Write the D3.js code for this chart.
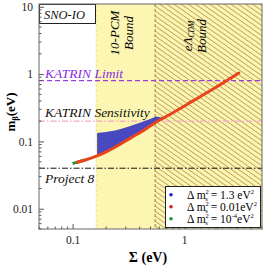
<!DOCTYPE html>
<html>
<head>
<meta charset="utf-8">
<script src="https://cdn.jsdelivr.net/npm/d3@7"></script>
<style>
  body { margin: 0; background: #fff; }
</style>
</head>
<body>
<script>
// Δm²s = 0.01 eV² curve (red)
var lineSigma = [0.1, 0.11, 0.13, 0.166, 0.2, 0.24, 0.33, 0.45, 0.55, 0.65, 0.83, 1.2, 2, 3.1];
var lineMbeta = [0.047, 0.049, 0.053, 0.061, 0.07, 0.082, 0.112, 0.152, 0.19, 0.222, 0.278, 0.40, 0.66, 1.04];
// Δm²s = 1e-4 eV² (green), only the start shows under the red
var greenSigma = [0.1, 0.105, 0.11, 0.13];
var greenMbeta = [0.047, 0.048, 0.049, 0.053];
// Δm²s = 1.3 eV² band (blue)
var bandSigma = [0.166, 0.24, 0.36, 0.49, 0.57, 0.65];
var bandTop = [0.133, 0.145, 0.178, 0.213, 0.232, 0.222];
var bandBottom = [0.061, 0.082, 0.122, 0.166, 0.197, 0.222];

var pcmBound = 0.163, lcdmBound = 0.55;
var katrinLimit = 0.8, katrinSens = 0.2, project8 = 0.04;

var xTicks = [0.1, 1];
var yTicks = [0.01, 0.1, 1, 10];
var yTickLabels = ["0.01", "0.1", "1", "10"];

var SERIF = "Liberation Serif, DejaVu Serif, serif";
var W = 266, H = 267;
var m = {left: 39, right: 4, top: 4, bottom: 38};

var x = d3.scaleLog().domain([0.05, 5]).range([m.left, W - m.right]);
var y = d3.scaleLog().domain([0.005, 11]).range([H - m.bottom, m.top]);

var svg = d3.select("body").append("svg").attr("width", W).attr("height", H)
    .attr("font-family", SERIF);

var defs = svg.append("defs");
defs.append("clipPath").attr("id", "clip").append("rect")
    .attr("x", m.left).attr("y", m.top)
    .attr("width", W - m.left - m.right).attr("height", H - m.top - m.bottom);
var pat = defs.append("pattern").attr("id", "hatch")
    .attr("patternUnits", "userSpaceOnUse")
    .attr("width", 4.1).attr("height", 4.1)
    .attr("patternTransform", "rotate(35)");
pat.append("rect").attr("width", 4.1).attr("height", 4.1).attr("fill", "#fcf6b2");
pat.append("line").attr("x1", 0).attr("x2", 4.1).attr("y1", 2).attr("y2", 2)
    .attr("stroke", "#ad8a45").attr("stroke-width", 0.7);

var g = svg.append("g").attr("clip-path", "url(#clip)");
var yTop = y.range()[1], yBot = y.range()[0];

// excluded regions
g.append("rect").attr("x", x(pcmBound)).attr("y", yTop)
    .attr("width", x(lcdmBound) - x(pcmBound)).attr("height", yBot - yTop)
    .attr("fill", "#fcf6b2");
g.append("rect").attr("x", x(lcdmBound)).attr("y", yTop)
    .attr("width", x.range()[1] - x(lcdmBound)).attr("height", yBot - yTop)
    .attr("fill", "url(#hatch)");
g.append("line").attr("x1", x(pcmBound)).attr("x2", x(pcmBound)).attr("y1", yTop).attr("y2", yBot)
    .attr("stroke", "#ecdc70").attr("stroke-width", 0.8).attr("stroke-dasharray", "3,2");
g.append("line").attr("x1", x(lcdmBound)).attr("x2", x(lcdmBound)).attr("y1", yTop).attr("y2", yBot)
    .attr("stroke", "#9a7130").attr("stroke-width", 0.9).attr("stroke-dasharray", "3,2");

// horizontal experiment lines
function hline(v, color, dash, w) {
    g.append("line").attr("x1", x.range()[0]).attr("x2", x.range()[1])
        .attr("y1", y(v)).attr("y2", y(v))
        .attr("stroke", color).attr("stroke-width", w).attr("stroke-dasharray", dash);
}
hline(katrinLimit, "#9a3ee0", "5,3", 1.3);
hline(katrinSens, "#f2a6cc", "6,2,1.5,2", 1.2);
hline(project8, "#111", "6,2,1.5,2", 1);

// blue band
var band = bandSigma.map(function (s, i) { return [s, bandTop[i], bandBottom[i]]; });
g.append("path").datum(band)
    .attr("fill", "#4848c0")
    .attr("d", d3.area().x(function (d) { return x(d[0]); })
        .y0(function (d) { return y(d[2]); }).y1(function (d) { return y(d[1]); })
        .curve(d3.curveMonotoneX));

var line = d3.line().x(function (d) { return x(d[0]); }).y(function (d) { return y(d[1]); })
    .curve(d3.curveMonotoneX);
g.append("path").datum(greenSigma.map(function (s, i) { return [s, greenMbeta[i]]; }))
    .attr("fill", "none").attr("stroke", "#1a9a2a").attr("stroke-width", 3).attr("d", line);
g.append("path").datum(lineSigma.slice(1).map(function (s, i) { return [s, lineMbeta[i + 1]]; }))
    .attr("fill", "none").attr("stroke", "#e8441c").attr("stroke-width", 3)
    .attr("stroke-linecap", "round").attr("d", line);

// text labels in plot
function label(t, px, py, color, size) {
    return svg.append("text").attr("x", px).attr("y", py).attr("fill", color)
        .attr("font-family", SERIF).attr("font-size", size).attr("font-style", "italic").text(t);
}
label("KATRIN Limit", 45, y(katrinLimit) - 3, "#8a2be2", 13.5);
label("KATRIN Sensitivity", 45, y(katrinSens) - 4, "#111", 13.5);
label("Project 8", 45, y(project8) + 15, "#111", 13.5);

var t1 = svg.append("text").attr("transform", "translate(119,33) rotate(-90)")
    .attr("text-anchor", "middle").attr("font-size", 13).attr("font-style", "italic");
t1.append("tspan").attr("x", 0).attr("dy", 0).text("10-PCM");
t1.append("tspan").attr("x", 0).attr("dy", 14).text("Bound");

var t2 = svg.append("text").attr("transform", "translate(192,36) rotate(-90)")
    .attr("text-anchor", "middle").attr("font-size", 13).attr("font-style", "italic");
t2.append("tspan").attr("x", 0).attr("dy", 0).text("eΛ");
t2.append("tspan").attr("font-size", 7.5).attr("dy", 2).text("CDM");
t2.append("tspan").attr("x", 0).attr("dy", 12).text("Bound");

// SNO-IO box
svg.append("rect").attr("x", m.left + 0.5).attr("y", m.top + 0.5).attr("width", 56).attr("height", 19)
    .attr("fill", "#fff").attr("stroke", "#222").attr("stroke-width", 1);
label("SNO-IO", 44, 19, "#111", 12.5);

// axes
var minorX = [], minorY = [];
[0.01, 0.1, 1].forEach(function (d) {
    for (var k = 2; k <= 9; k++) { if (d * k >= 0.05 && d * k <= 5) minorX.push(d * k); }
});
[0.001, 0.01, 0.1, 1].forEach(function (d) {
    for (var k = 2; k <= 9; k++) { if (d * k >= 0.005 && d * k <= 10) minorY.push(d * k); }
});

var ax = svg.append("g").attr("transform", "translate(0," + yBot + ")");
ax.call(d3.axisBottom(x).tickValues(xTicks).tickFormat(d3.format("")).tickSizeInner(-5).tickSizeOuter(0).tickPadding(7));
ax.selectAll(".minor").data(minorX).join("line").attr("class", "minor")
    .attr("x1", x).attr("x2", x).attr("y1", 0).attr("y2", -2.5).attr("stroke", "#555");

var ay = svg.append("g").attr("transform", "translate(" + m.left + ",0)");
ay.call(d3.axisLeft(y).tickValues(yTicks).tickFormat(function (d, i) { return yTickLabels[i]; })
    .tickSizeInner(-5).tickSizeOuter(0).tickPadding(6));
ay.selectAll(".minor").data(minorY).join("line").attr("class", "minor")
    .attr("y1", y).attr("y2", y).attr("x1", 0).attr("x2", 2.5).attr("stroke", "#555");

svg.selectAll(".domain").remove();
svg.selectAll(".tick line").attr("stroke", "#555");
ax.attr("font-family", SERIF);
ay.attr("font-family", SERIF);
svg.selectAll(".tick text").attr("font-family", SERIF).attr("font-size", 11.5).attr("fill", "#222");

svg.append("rect").attr("x", m.left).attr("y", m.top)
    .attr("width", W - m.left - m.right).attr("height", yBot - yTop)
    .attr("fill", "none").attr("stroke", "#666").attr("stroke-width", 1);

// axis titles
var yl = svg.append("text").attr("transform", "translate(15,112) rotate(-90)")
    .attr("text-anchor", "middle").attr("font-weight", "bold").attr("font-size", 13);
yl.append("tspan").text("m");
yl.append("tspan").attr("font-size", 8.5).attr("dy", 3).text("β");
yl.append("tspan").attr("dy", -3).text("(eV)");

svg.append("text").attr("x", 148).attr("y", 262).attr("text-anchor", "middle")
    .attr("font-weight", "bold").attr("font-size", 14).text("Σ (eV)");

// legend
var legData = [
    {c: "#1f1fe0", v: "1.3 eV", sup: "2"},
    {c: "#e01818", v: "0.01eV", sup: "2"},
    {c: "#149a30", v: "10", sup: "-4", tail: "eV", sup2: "2"}
];
var lg = svg.append("g");
lg.append("rect").attr("x", 165.5).attr("y", 186.5).attr("width", 95).attr("height", 41)
    .attr("fill", "#fff").attr("stroke", "#222").attr("stroke-width", 1);
legData.forEach(function (d, i) {
    var yy = 194.7 + i * 12;
    lg.append("circle").attr("cx", 171).attr("cy", yy).attr("r", 1.8).attr("fill", d.c);
    var t = lg.append("text").attr("x", 187).attr("y", yy + 3.8).attr("font-size", 11.5);
    t.append("tspan").text("Δ m");
    t.append("tspan").attr("font-size", 6.5).attr("dy", -4.5).text("2");
    t.append("tspan").attr("font-size", 6.5).attr("dx", -3.5).attr("dy", 6.5).text("s");
    t.append("tspan").attr("dy", -2).text(" = " + d.v);
    t.append("tspan").attr("font-size", 6.5).attr("dy", -4.5).text(d.sup);
    if (d.tail) {
        t.append("tspan").attr("dy", 4.5).text(d.tail);
        t.append("tspan").attr("font-size", 6.5).attr("dy", -4.5).text(d.sup2);
    }
});
</script>
</body>
</html>
